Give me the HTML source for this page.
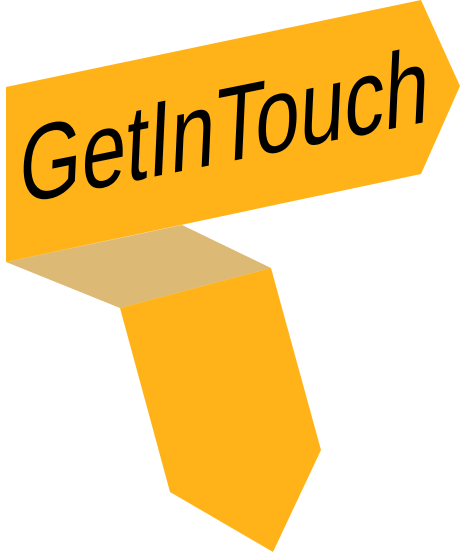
<!DOCTYPE html>
<html><head><meta charset="utf-8"><style>
html,body{margin:0;padding:0;background:#fff;width:460px;height:554px;overflow:hidden}
</style></head><body>
<svg width="460" height="554" viewBox="0 0 460 554" xmlns="http://www.w3.org/2000/svg">
  <polygon points="6,262 182,225 271,268 120,308" fill="#dcb974"/>
  <polygon points="120,308 271,268 321,450 273,552 170,492" fill="#ffb318"/>
  <polygon points="6,87 421,0 460,86 421,174 6,262" fill="#ffb318"/>
  <text transform="translate(18,204) rotate(-11.4) skewX(-14)" style="font-family:'Liberation Sans',sans-serif" font-size="105" fill="#000" textLength="418" lengthAdjust="spacingAndGlyphs">GetInTouch</text>
</svg>
</body></html>
